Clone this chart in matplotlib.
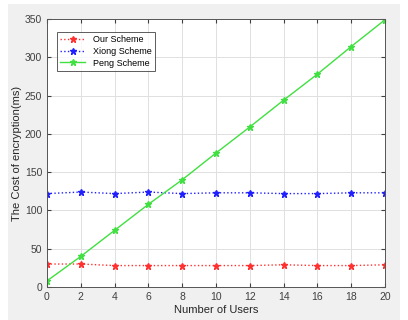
import matplotlib
matplotlib.use("Agg")
import matplotlib.pyplot as plt
from matplotlib.patches import Rectangle

users = [0, 2, 4, 6, 8, 10, 12, 14, 16, 18, 20]
our = [30, 30, 28, 28, 28, 28, 28, 29, 28, 28, 29]
xiong = [122, 124, 122, 124, 122, 123, 123, 122, 122, 123, 123]
peng = [8, 40, 74, 108, 140, 175, 209, 244, 278, 314, 349]
labels = ["Our Scheme", "Xiong Scheme", "Peng Scheme"]

plt.rcParams['font.family'] = ['Liberation Sans', 'DejaVu Sans']

W, H = 408, 320
fig = plt.figure(figsize=(W/100, H/100), dpi=100, facecolor="white")
fig.patches.append(Rectangle((8/W, 0), (400-8)/W, (320-4)/H, transform=fig.transFigure,
                             facecolor="#f0f0f0", edgecolor="none", zorder=-10))
ax = fig.add_axes([47/W, 1-287/H, (385-47)/W, (287-19)/H])
ax.set_facecolor("white")

ax.plot(users, our, ls=":", color="#ff3030", marker="*", ms=5, lw=1, label=labels[0])
ax.plot(users, xiong, ls=":", color="#2020ff", marker="*", ms=5, lw=1, label=labels[1])
ax.plot(users, peng, ls="-", color="#40e040", marker="*", ms=5, lw=1, label=labels[2])

ax.set_xlim(0, 20)
ax.set_ylim(0, 350)
ax.set_xticks(range(0, 21, 2))
ax.set_yticks(range(0, 351, 50))
ax.grid(True, color="#e0e0e0", lw=0.7)
ax.tick_params(direction="in", length=3, labelsize=7.5, colors="#404040", top=True, right=True,
               labeltop=False, labelright=False)
for s in ax.spines.values():
    s.set_color("#555555")
    s.set_linewidth(0.7)
ax.set_xlabel("Number of Users", fontsize=8, color="#262626", labelpad=2)
ax.set_ylabel("The Cost of encryption(ms)", fontsize=8, color="#262626", labelpad=2)
leg = ax.legend(loc="upper left", fontsize=6.5, frameon=True, fancybox=False, edgecolor="#333333",
                borderpad=0.4, handlelength=2.8, labelspacing=0.3, bbox_to_anchor=(0.015, 0.97))
leg.get_frame().set_linewidth(0.7)
fig.savefig("out.png", dpi=100, facecolor=fig.get_facecolor())
